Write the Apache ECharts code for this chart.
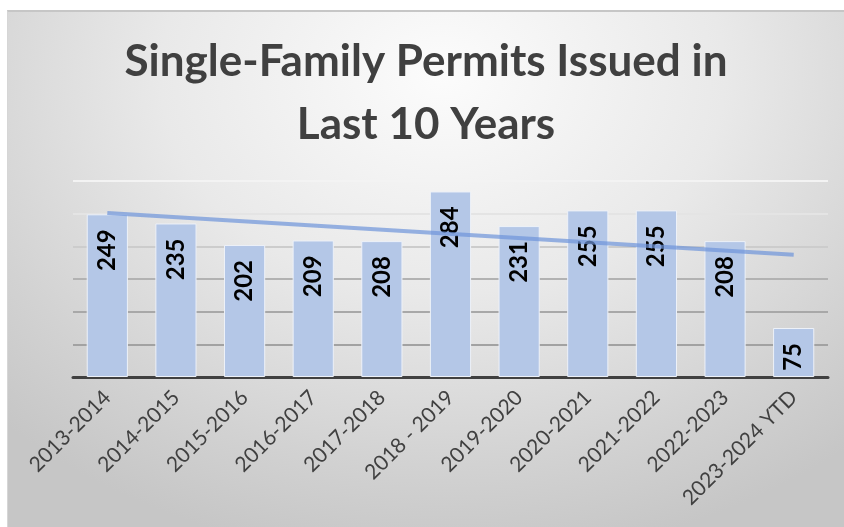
<!DOCTYPE html>
<html>
<head>
<meta charset="utf-8">
<script src="https://cdn.jsdelivr.net/npm/echarts@6/dist/echarts.min.js"></script>
<style>
  html, body { margin: 0; padding: 0; background: #ffffff; }
  #chart {
    position: absolute;
    left: 7px;
    top: 10px;
    width: 837px;
    height: 517px;
    box-sizing: border-box;
    border-top: 2px solid #c6c6c6;
    border-left: 1px solid #d6d6d6;
    background: radial-gradient(ellipse 75% 95% at 52% 12%, #fcfcfc 0%, #e9e9e9 45%, #d2d2d2 80%, #c6c6c6 100%);
  }
</style>
</head>
<body>
<div id="chart"></div>
<script>
const categories = ['2013-2014', '2014-2015', '2015-2016', '2016-2017', '2017-2018', '2018 - 2019',
  '2019-2020', '2020-2021', '2021-2022', '2022-2023', '2023-2024 YTD'];
const permits = [249, 235, 202, 209, 208, 284, 231, 255, 255, 208, 75];
// trend line ends (first and last category)
const trendEnds = [251, 187];

const chart = echarts.init(document.getElementById('chart'));

const option = {
  backgroundColor: 'transparent',
  title: {
    text: 'Single-Family Permits Issued in\nLast 10 Years',
    left: 'center',
    top: 18,
    padding: [0, 0, 0, 13],
    textStyle: {
      fontFamily: 'Lato',
      fontWeight: 'bold',
      fontSize: 44,
      lineHeight: 63,
      color: '#404040'
    }
  },
  grid: {
    left: 65,
    right: 16,
    top: 169,
    bottom: 150
  },
  xAxis: {
    type: 'category',
    data: categories,
    axisTick: { show: false },
    axisLine: { lineStyle: { color: '#404040', width: 3 } },
    axisLabel: {
      interval: 0,
      rotate: 45,
      margin: 17,
      fontFamily: 'Lato',
      fontSize: 21,
      color: '#404040'
    }
  },
  yAxis: {
    type: 'value',
    min: 0,
    max: 300,
    interval: 50,
    axisLabel: { show: false },
    axisLine: { show: false },
    axisTick: { show: false },
    splitLine: {
      lineStyle: {
        width: 2,
        color: ['#404040', '#a2a2a2', '#a8a8a8', '#b2b2b2', '#cccccc', '#e4e4e4', '#f3f3f3']
      }
    }
  },
  series: [
    {
      name: 'Permits',
      type: 'bar',
      data: permits,
      barCategoryGap: '40%',
      itemStyle: {
        color: '#b4c7e7',
        borderColor: '#edf1f8',
        borderWidth: 1
      },
      label: {
        show: true,
        position: 'insideTop',
        rotate: 90,
        align: 'right',
        verticalAlign: 'middle',
        distance: 15,
        fontFamily: 'Lato',
        fontWeight: 'bold',
        fontSize: 24,
        color: '#000000'
      },
      markLine: {
        silent: true,
        symbol: 'none',
        label: { show: false },
        lineStyle: { color: 'rgba(110, 148, 218, 0.7)', width: 4, type: 'solid' },
        data: [[
          { coord: [0, trendEnds[0]] },
          { coord: [categories.length - 1, trendEnds[1]] }
        ]]
      }
    }
  ]
};

chart.setOption(option);
</script>
</body>
</html>
